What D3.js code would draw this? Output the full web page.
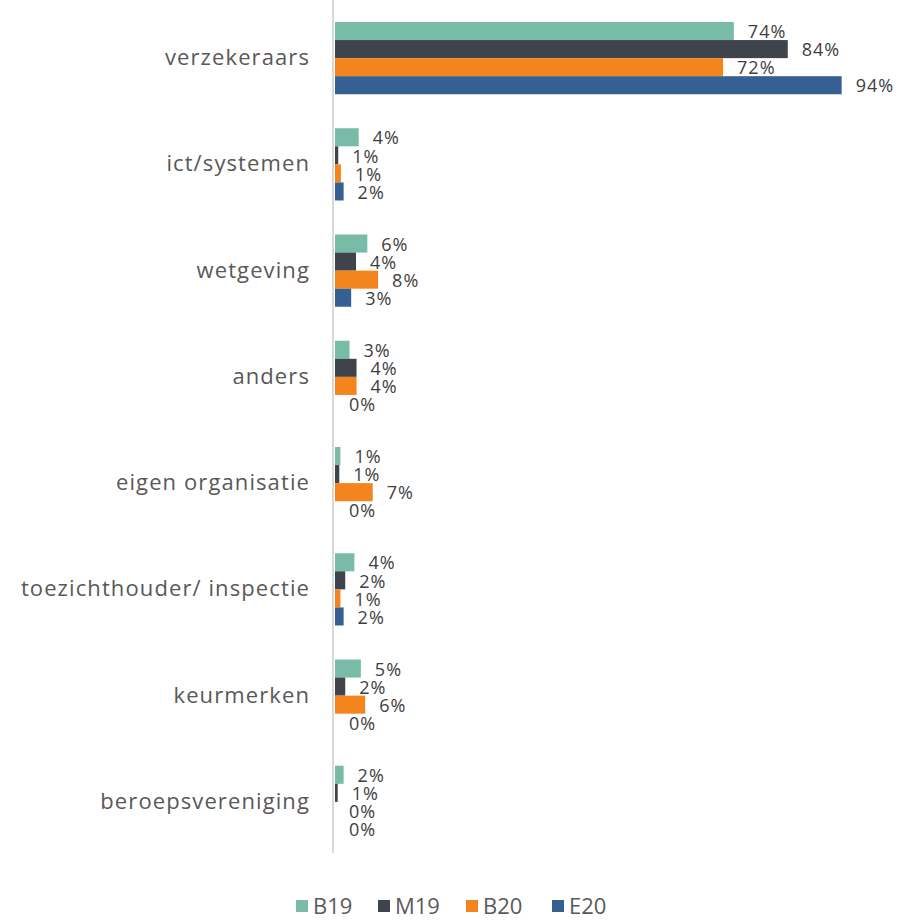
<!DOCTYPE html>
<html>
<head>
<meta charset="utf-8">
<script src="https://cdn.jsdelivr.net/npm/d3@7"></script>
<style>
  body { margin: 0; background: #fff; }
  text { font-family: "Open Sans", sans-serif; fill: #595959; }
</style>
</head>
<body>
<div id="chart"></div>
<script>
const categories = [
  "verzekeraars",
  "ict/systemen",
  "wetgeving",
  "anders",
  "eigen organisatie",
  "toezichthouder/ inspectie",
  "keurmerken",
  "beroepsvereniging"
];
const seriesNames = ["B19", "M19", "B20", "E20"];
const B19 = [74, 4.4, 6.0, 2.7, 1.0, 3.6, 4.8, 1.6];
const M19 = [84, 0.6, 3.9, 4.0, 0.8, 1.9, 1.9, 0.5];
const B20 = [72, 1.1, 8.0, 4.0, 7.0, 1.0, 5.6, 0];
const E20 = [94, 1.6, 3.0, 0, 0, 1.6, 0, 0];
const colors = ["#78bca8", "#3f434b", "#f3841e", "#376092"];

const width = 899,
  height = 921,
  margin = { top: 5, left: 335, bottom: 66 };

const data = categories.map((c, i) => ({
  cat: c,
  values: [B19[i], M19[i], B20[i], E20[i]]
}));

const svg = d3
  .select("#chart")
  .append("svg")
  .attr("width", width)
  .attr("height", height);

const x = d3.scaleLinear().domain([0, 100]).range([margin.left, 874]);
const y0 = d3
  .scaleBand()
  .domain(categories)
  .range([margin.top, height - margin.bottom])
  .paddingInner(0.32)
  .paddingOuter(0.16);
const y1 = d3.scaleBand().domain(seriesNames).range([0, y0.bandwidth()]);
const color = d3.scaleOrdinal().domain(seriesNames).range(colors);

const groups = svg
  .append("g")
  .selectAll("g")
  .data(data)
  .join("g")
  .attr("transform", (d) => "translate(0," + y0(d.cat) + ")");

groups
  .selectAll("rect")
  .data((d) => d.values.map((v, i) => ({ key: seriesNames[i], value: v })))
  .join("rect")
  .attr("x", x(0))
  .attr("y", (d) => y1(d.key))
  .attr("width", (d) => x(d.value) - x(0))
  .attr("height", y1.bandwidth())
  .attr("fill", (d) => color(d.key));

groups
  .selectAll("text")
  .data((d) => d.values.map((v, i) => ({ key: seriesNames[i], value: v })))
  .join("text")
  .attr("x", (d) => x(d.value) + 14)
  .attr("y", (d) => y1(d.key) + y1.bandwidth() / 2)
  .attr("dy", "0.4em")
  .style("font-size", "18px")
  .style("letter-spacing", "1px")
  .style("fill", "#404040")
  .text((d) => Math.round(d.value) + "%");

// category axis
const yAxis = svg
  .append("g")
  .attr("transform", "translate(" + (margin.left - 2) + ",0)")
  .call(d3.axisLeft(y0).tickSize(0).tickPadding(23));
yAxis.select(".domain").attr("stroke", "#d9d9d9").attr("stroke-width", 2)
  .attr("d", "M0,0V853");
yAxis
  .selectAll("text")
  .style("font-size", "22px")
  .style("letter-spacing", "1.1px")
  .style("fill", "#595959");

// legend
const legend = svg
  .append("g")
  .selectAll("g")
  .data(seriesNames)
  .join("g")
  .attr("transform", (d, i) => "translate(" + [296, 378, 466, 552][i] + ",906)");
legend
  .append("rect")
  .attr("x", 0)
  .attr("y", -6)
  .attr("width", 12)
  .attr("height", 12)
  .attr("fill", (d) => color(d));
legend
  .append("text")
  .attr("x", 17)
  .attr("dy", "0.35em")
  .style("font-size", "22px")
  .text((d) => d);
</script>
</body>
</html>
